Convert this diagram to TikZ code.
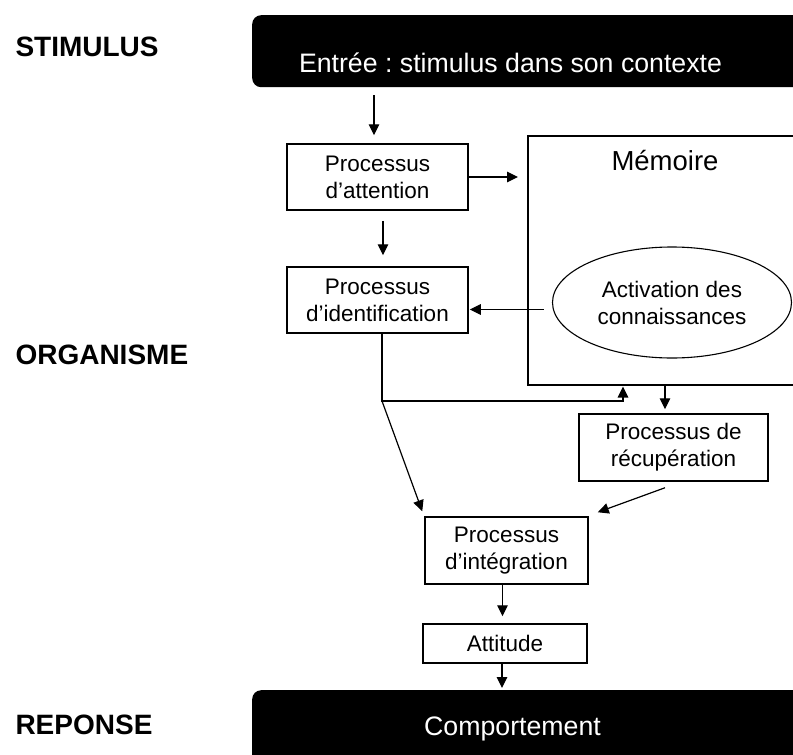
\documentclass[tikz,border=0pt]{standalone}
\usepackage{fontspec}
\setmainfont{Liberation Sans}
\usetikzlibrary{arrows.meta,shapes.geometric}
\frenchspacing

\begin{document}
\begin{tikzpicture}[x=1pt,y=-1pt]
            \tikzset{vertex/.style = {shape=rectangle,draw,line width=1.5pt,align=center,inner sep=0pt,font=\fontsize{22.5}{27}\selectfont}}
            \tikzset{blackbox/.style = {shape=rectangle,fill=black,rounded corners=9pt,anchor=north west,inner sep=0pt}}
            \tikzset{bigtext/.style = {anchor=base,text=white,font=\fontsize{26.7}{32}\selectfont}}
            \tikzset{side/.style = {anchor=west,font=\fontsize{28}{34}\selectfont\bfseries}}
            \tikzset{edge/.style = {-{Triangle[length=11pt,width=10.5pt]},line width=1.2pt}}
            \useasboundingbox (0,0) rectangle (793,755);
            \clip (0,0) rectangle (793,755);

            % left column
            \node[side] (stim) at (12,47) {STIMULUS};
            \node[side] (orga) at (12,355) {ORGANISME};
            \node[side] (repo) at (12,725) {REPONSE};

            % input and output
            \node[blackbox,minimum width=700pt,minimum height=72pt] (entree) at (252,15) {};
            \node[bigtext] (entreetxt) at (510.5,72) {Entrée : stimulus dans son contexte};
            \node[blackbox,minimum width=700pt,minimum height=120pt] (compt) at (252,690) {};
            \node[bigtext] (compttxt) at (512.5,735) {Comportement};

            % processes
            \node[vertex,minimum width=181pt,minimum height=66pt] (attn) at (377.5,177) {Processus\\d’attention};
            \node[vertex,minimum width=181pt,minimum height=66pt] (ident) at (377.5,300) {Processus\\d’identification};
            \node[vertex,minimum width=300pt,minimum height=249pt,anchor=north west] (memoire) at (527,135) {};
            \node[anchor=base,font=\fontsize{27.5}{33}\selectfont] (memtxt) at (665,170) {Mémoire};
            \node[ellipse,draw,line width=1.1pt,minimum width=239pt,minimum height=111pt,align=center,inner sep=0pt,font=\fontsize{22.5}{27}\selectfont] (activ) at (672,302.5) {Activation des\\connaissances};
            \node[vertex,minimum width=189pt,minimum height=67pt] (recup) at (673.5,447.5) {Processus de\\récupération};
            \node[vertex,minimum width=163pt,minimum height=67pt] (integ) at (506.5,550.5) {Processus\\d’intégration};
            \node[vertex,minimum width=164pt,minimum height=39pt] (attitude) at (505,643.5) {Attitude};

            \coordinate (coude) at (382,401);
            \coordinate (remontee) at (623,401);

            \draw[edge,transform canvas={xshift=-3.5pt},shorten <=8pt,shorten >=8pt] (attn.north |- entree.south) -- (attn.north);
            \draw[edge,shorten >=9pt] (attn.east) -- (attn.east -| memoire.west);
            \draw[edge,transform canvas={xshift=5.5pt},shorten <=10pt,shorten >=11pt] (attn.south) -- (ident.north);
            \draw[edge,transform canvas={yshift=-7pt},shorten <=8pt,shorten >=1pt] (activ.west) -- (activ.west -| ident.east);
            \draw[edge,shorten >=1pt] (coude |- ident.south) -- (coude) -- (remontee) -- (remontee |- memoire.south);
            \draw[edge] (coude) -- ([xshift=-2pt,yshift=5pt]integ.north west);
            \draw[edge,transform canvas={xshift=-8.5pt},shorten >=4pt] (recup.north |- memoire.south) -- (recup.north);
            \draw[edge] ([xshift=-8.5pt,yshift=-6pt]recup.south) -- ([xshift=9pt,yshift=4pt]integ.north east);
            \draw[edge,transform canvas={xshift=-4pt},shorten >=7pt] (integ.south) -- (integ.south |- attitude.north);
            \draw[edge,transform canvas={xshift=-3pt},shorten >=2pt] (attitude.south) -- (attitude.south |- compt.north);
        \end{tikzpicture}
\end{document}
